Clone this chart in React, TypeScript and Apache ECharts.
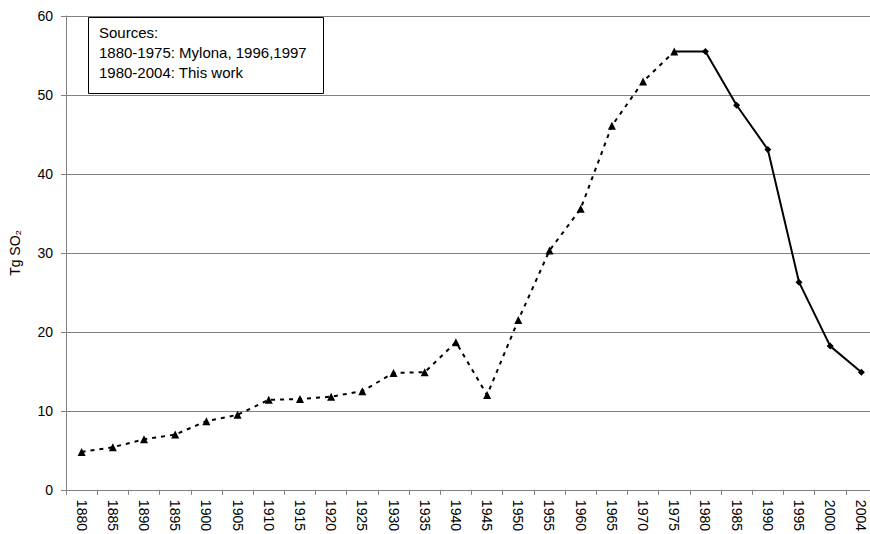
import { useEffect, useRef } from "react";
import * as echarts from "echarts";

const years = [
  "1880", "1885", "1890", "1895", "1900", "1905", "1910", "1915", "1920",
  "1925", "1930", "1935", "1940", "1945", "1950", "1955", "1960", "1965",
  "1970", "1975", "1980", "1985", "1990", "1995", "2000", "2004",
];

// 1880-1975: Mylona, 1996,1997
const mylona = [
  4.8, 5.4, 6.4, 7.0, 8.7, 9.5, 11.4, 11.5, 11.8, 12.5, 14.8, 14.9, 18.7,
  12.0, 21.5, 30.3, 35.6, 46.1, 51.7, 55.5,
];

// 1975-2004: This work (starts at the 1975 point)
const thisWork = [55.5, 55.5, 48.7, 43.1, 26.3, 18.2, 14.9];

const sourceLines = ["Sources:", "1880-1975: Mylona, 1996,1997", "1980-2004: This work"];

const App = () => {
  const chartRef = useRef<HTMLDivElement>(null);

  useEffect(() => {
    if (!chartRef.current) return;
    const chart = echarts.init(chartRef.current, undefined, { renderer: "svg" });

    const offset = years.length - thisWork.length;
    const solidData = years.map((_, i) => {
      if (i < offset) return null;
      const v = thisWork[i - offset];
      // the joining point keeps the triangle of the dotted series
      return i === offset ? { value: v, symbol: "none" } : v;
    });

    const font = "Arial, 'Liberation Sans', sans-serif";

    const option = {
      animation: false,
      backgroundColor: "#fff",
      textStyle: { fontFamily: font },
      // plot runs a little past the right edge of the picture, as in the original
      grid: { left: 66, right: 0, top: 16, bottom: 44 },
      xAxis: {
        type: "category",
        data: years,
        boundaryGap: true,
        axisLine: { lineStyle: { color: "#808080", width: 1 } },
        axisTick: { show: true, length: 5, lineStyle: { color: "#808080" } },
        axisLabel: {
          rotate: -90,
          interval: 0,
          margin: 10,
          color: "#000",
          fontSize: 14,
          fontFamily: font,
        },
        splitLine: { show: false },
      },
      yAxis: {
        type: "value",
        min: 0,
        max: 60,
        interval: 10,
        name: "Tg SO₂",
        nameLocation: "middle",
        nameRotate: 90,
        nameGap: 44,
        nameTextStyle: { color: "#000", fontSize: 14, fontFamily: font },
        axisLine: { show: true, lineStyle: { color: "#808080", width: 1 } },
        axisTick: { show: true, length: 5, lineStyle: { color: "#808080" } },
        axisLabel: { color: "#000", fontSize: 14, margin: 13, fontFamily: font },
        splitLine: { show: true, lineStyle: { color: "#808080", width: 1 } },
      },
      series: [
        {
          name: "Mylona",
          type: "line",
          data: mylona,
          symbol: "triangle",
          symbolSize: 8,
          itemStyle: { color: "#000" },
          lineStyle: { color: "#000", width: 2, type: [4, 5] },
          z: 3,
        },
        {
          name: "This work",
          type: "line",
          data: solidData,
          symbol: "diamond",
          symbolSize: 7,
          itemStyle: { color: "#000" },
          lineStyle: { color: "#000", width: 2 },
          z: 2,
        },
      ],
      graphic: [
        {
          type: "rect",
          left: 88,
          top: 17,
          shape: { width: 235, height: 76 },
          style: { fill: "#fff", stroke: "#000", lineWidth: 1 },
          z: 10,
        },
        ...sourceLines.map((line, i) => ({
          type: "text",
          left: 99,
          top: 25 + i * 20,
          style: {
            text: line,
            fill: "#000",
            fontSize: 15,
            fontFamily: font,
          },
          z: 11,
        })),
      ],
    };

    chart.setOption(option);

    return () => {
      chart.dispose();
    };
  }, []);

  return (
    <div
      ref={chartRef}
      style={{ position: "fixed", left: 0, top: 0, width: 877, height: 534 }}
    />
  );
};

export default App;
